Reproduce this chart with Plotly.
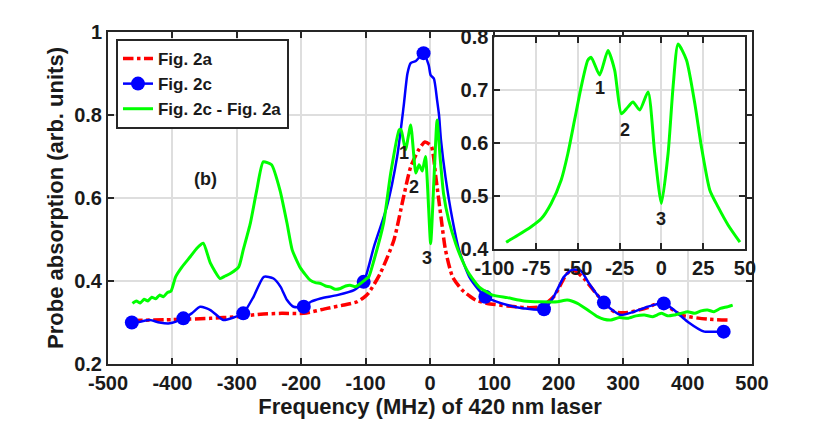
import plotly.graph_objects as go

# Fig. 2a (red dash-dot)
red_f = [-463, -400, -341, -300, -263, -230, -196, -160, -134, -113, -103, -95, -77, -56, -41, -30,
         -18, -8, 2, 9, 17, 24, 35, 50, 63, 71, 89, 120, 146, 172, 192, 213, 224, 239, 260, 286,
         307, 338, 358, 390, 431, 467]
red_v = [0.305, 0.307, 0.310, 0.314, 0.320, 0.322, 0.322, 0.334, 0.342, 0.350, 0.360, 0.372, 0.419,
         0.499, 0.603, 0.675, 0.715, 0.735, 0.725, 0.651, 0.555, 0.475, 0.410, 0.378, 0.362, 0.354,
         0.346, 0.340, 0.336, 0.338, 0.362, 0.418, 0.425, 0.406, 0.366, 0.326, 0.324, 0.336, 0.348,
         0.318, 0.308, 0.306]

# Fig. 2c (blue line)
blue_f = [-463, -450, -435, -420, -404, -383, -370, -357, -341, -321, -305, -290, -274, -258, -243,
          -232, -222, -212, -196, -185, -170, -144, -118, -103, -87, -67, -51, -41, -35, -30, -22,
          -10, -2, 1, 6, 11, 14, 17, 24, 35, 45, 61, 76, 86, 100, 120, 146, 177, 192, 208, 221, 234,
          247, 260, 270, 283, 296, 317, 338, 363, 379, 400, 426, 441, 456]
blue_v = [0.300, 0.302, 0.306, 0.300, 0.298, 0.310, 0.322, 0.338, 0.330, 0.306, 0.312, 0.322, 0.362,
          0.410, 0.406, 0.386, 0.354, 0.338, 0.338, 0.350, 0.358, 0.366, 0.378, 0.398, 0.483, 0.579,
          0.700, 0.820, 0.900, 0.925, 0.930, 0.949, 0.920, 0.896, 0.888, 0.836, 0.800, 0.740, 0.651,
          0.547, 0.475, 0.410, 0.378, 0.362, 0.352, 0.342, 0.334, 0.332, 0.362, 0.410, 0.427, 0.425,
          0.394, 0.366, 0.348, 0.330, 0.318, 0.326, 0.338, 0.346, 0.330, 0.302, 0.278, 0.278, 0.278]
# blue markers
mark_f = [-463, -383, -290, -196, -103, -10, 86, 177, 270, 363, 456]
mark_v = [0.300, 0.310, 0.322, 0.338, 0.398, 0.949, 0.362, 0.332, 0.348, 0.346, 0.278]

# Fig. 2c - Fig. 2a (green)
green_f = [-462, -456, -450, -444, -438, -432, -426, -420, -414, -408, -402, -395, -385, -372, -362,
           -352, -341, -326, -318, -310, -297, -290, -279, -269, -259, -246, -233, -222, -214, -201,
           -186, -178, -170, -162, -155, -147, -139, -131, -124, -116, -108, -100, -95, -87, -72,
           -61, -48, -45, -38, -30, -22, -17, -12, -7, 1, 6, 11, 16, 21, 29, 40, 50, 60, 76, 97,
           120, 146, 172, 198, 213, 229, 245, 260, 270, 281, 294, 307, 320, 333, 346, 359, 369, 379,
           390, 400, 411, 421, 431, 441, 451, 462, 470]
green_v = [0.346, 0.352, 0.347, 0.356, 0.352, 0.361, 0.357, 0.366, 0.362, 0.372, 0.376, 0.410, 0.434,
           0.459, 0.479, 0.491, 0.443, 0.406, 0.412, 0.418, 0.434, 0.475, 0.539, 0.619, 0.687, 0.680,
           0.619, 0.539, 0.475, 0.431, 0.402, 0.396, 0.394, 0.388, 0.386, 0.380, 0.382, 0.388, 0.390,
           0.386, 0.394, 0.404, 0.410, 0.450, 0.540, 0.660, 0.764, 0.765, 0.716, 0.776, 0.660, 0.680,
           0.665, 0.700, 0.490, 0.640, 0.788, 0.692, 0.611, 0.547, 0.490, 0.450, 0.419, 0.386, 0.366,
           0.360, 0.352, 0.350, 0.350, 0.354, 0.346, 0.330, 0.314, 0.308, 0.306, 0.312, 0.310, 0.316,
           0.318, 0.314, 0.322, 0.316, 0.318, 0.322, 0.326, 0.322, 0.328, 0.330, 0.326, 0.334, 0.338,
           0.342]

# inset (zoom of the green curve)
inset_f = [-93, -86, -78, -72, -66, -60, -56, -52, -48, -44, -42, -37, -32, -28, -24, -21, -17, -13,
           -8, -4, 0, 4, 7, 10, 15, 20, 24, 29, 34, 40, 47]
inset_v = [0.413, 0.426, 0.442, 0.457, 0.486, 0.530, 0.580, 0.643, 0.706, 0.756, 0.761, 0.728, 0.774,
           0.737, 0.655, 0.664, 0.677, 0.662, 0.696, 0.580, 0.486, 0.580, 0.706, 0.786, 0.756, 0.674,
           0.592, 0.511, 0.479, 0.445, 0.413]

main_labels = ["1", "2", "3"]
main_lab_f = [-41, -25, -4]
main_lab_v = [0.708, 0.627, 0.455]
inset_lab_f = [-37, -22, 0]
inset_lab_v = [0.703, 0.624, 0.457]

# tick labels (plain hyphen minus, as in the original)
x_ticks = [-500, -400, -300, -200, -100, 0, 100, 200, 300, 400, 500]
x_ticktext = ["-500", "-400", "-300", "-200", "-100", "0", "100", "200", "300", "400", "500"]
y_ticks = [0.2, 0.4, 0.6, 0.8, 1.0]
y_ticktext = ["0.2", "0.4", "0.6", "0.8", "1"]
x2_ticks = [-100, -75, -50, -25, 0, 25, 50]
x2_ticktext = ["-100", "-75", "-50", "-25", "0", "25", "50"]
y2_ticks = [0.4, 0.5, 0.6, 0.7, 0.8]
y2_ticktext = ["0.4", "0.5", "0.6", "0.7", "0.8"]

RED = "#ff0000"
BLUE = "#0000ff"
GREEN = "#00ff00"
TXT = "#1a1a1a"

fig = go.Figure()

fig.add_trace(go.Scatter(x=red_f, y=red_v, mode="lines", name="Fig. 2a",
                         line=dict(color=RED, width=3.5, dash="dashdot", shape="spline", smoothing=0.6)))
fig.add_trace(go.Scatter(x=blue_f, y=blue_v, mode="lines", showlegend=False,
                         line=dict(color=BLUE, width=2.5, shape="spline", smoothing=0.6)))
fig.add_trace(go.Scatter(x=mark_f, y=mark_v, mode="markers", showlegend=False,
                         marker=dict(color=BLUE, size=14)))
fig.add_trace(go.Scatter(x=[None], y=[None], mode="lines+markers", name="Fig. 2c",
                         line=dict(color=BLUE, width=2.5), marker=dict(color=BLUE, size=14)))
fig.add_trace(go.Scatter(x=green_f, y=green_v, mode="lines", name="Fig. 2c - Fig. 2a",
                         line=dict(color=GREEN, width=3, shape="spline", smoothing=0.5)))
fig.add_trace(go.Scatter(x=inset_f, y=inset_v, mode="lines", showlegend=False,
                         line=dict(color=GREEN, width=3, shape="spline", smoothing=0.6),
                         xaxis="x2", yaxis="y2"))

for t, f, v in zip(main_labels, main_lab_f, main_lab_v):
    fig.add_annotation(x=f, y=v, text=t, showarrow=False, font=dict(size=18))
for t, f, v in zip(main_labels, inset_lab_f, inset_lab_v):
    fig.add_annotation(x=f, y=v, xref="x2", yref="y2", text=t, showarrow=False, font=dict(size=18))
fig.add_annotation(x=-348, y=0.647, text="(b)", showarrow=False, font=dict(size=18))

axis_style = dict(showline=True, linecolor="#262626", linewidth=2, mirror="ticks",
                  ticks="inside", ticklen=6, tickwidth=2, tickcolor="#262626",
                  showgrid=True, gridcolor="#dedede", gridwidth=1.5, zeroline=False,
                  tickfont=dict(size=20, color=TXT))

fig.update_layout(
    width=830, height=421,
    margin=dict(l=100, r=86, t=24, b=65),
    paper_bgcolor="white", plot_bgcolor="white",
    font=dict(family="Liberation Sans", weight="bold", color=TXT, size=18),
    xaxis=dict(range=[-500, 500], tickvals=x_ticks, ticktext=x_ticktext, domain=[0, 1],
               title=dict(text="Frequency (MHz) of 420 nm laser", font=dict(size=22), standoff=2),
               **axis_style),
    yaxis=dict(range=[0.2, 1], tickvals=y_ticks, ticktext=y_ticktext, domain=[0, 1],
               title=dict(text="Probe absorption (arb. units)", font=dict(size=22), standoff=4),
               **axis_style),
    xaxis2=dict(range=[-100, 50], tickvals=x2_ticks, ticktext=x2_ticktext,
                domain=[0.600, 0.989], anchor="y2", **axis_style),
    yaxis2=dict(range=[0.4, 0.8], tickvals=y2_ticks, ticktext=y2_ticktext,
                domain=[0.346, 0.986], anchor="x2", **axis_style),
    legend=dict(x=0.0124, y=0.979, xanchor="left", yanchor="top",
                bgcolor="white", bordercolor="#262626", borderwidth=2,
                font=dict(size=17), tracegroupgap=0, itemwidth=30),
    showlegend=True,
)

fig.write_html("out.html")
